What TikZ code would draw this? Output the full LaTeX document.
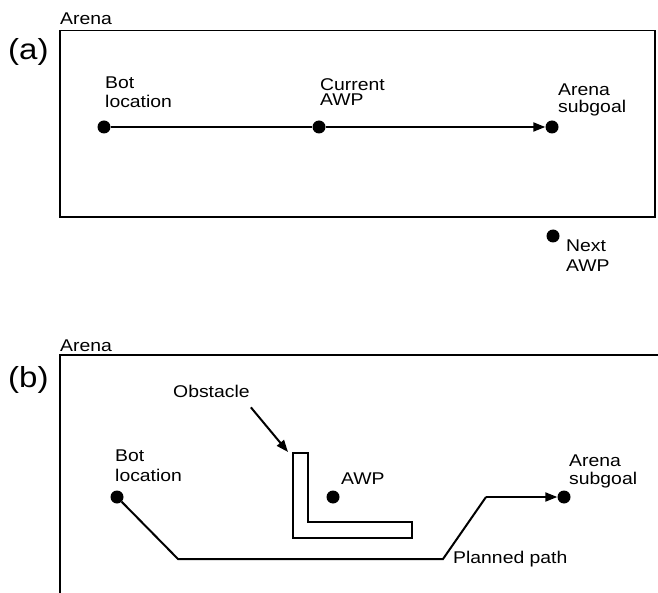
\documentclass[tikz,border=0pt]{standalone}
\usepackage{fontspec}
\setmainfont{Liberation Sans}[FakeStretch=1.14]
\usetikzlibrary{arrows.meta}
\begin{document}
\begin{tikzpicture}[x=1pt,y=-1pt,
  dot/.style={circle,fill=black,inner sep=0pt,minimum size=13pt},
  lbl/.style={inner sep=0pt,anchor=base west,align=left,font=\fontsize{17}{19}\selectfont},
  big/.style={inner sep=0pt,anchor=base west,font=\fontsize{29}{32}\selectfont},
  frame/.style={line width=1.3pt},
  conn/.style={line width=2pt},
  arr/.style={line width=2pt,-{Triangle[length=12pt,width=9pt]}}]
\useasboundingbox (0,0) rectangle (658,593);
% ---------- panel (a)
\node[lbl] (arenaA) at (60,25) {Arena};
\node[big] (labA) at (8,60) {(a)};
\draw[frame] (60,30.5) rectangle (655,217);
\node[dot] (a1) at (104,127) {};
\node[dot] (a2) at (319,127) {};
\node[dot] (a3) at (552,127) {};
\node[dot] (a4) at (553,236) {};
\node[lbl,font=\fontsize{17}{19}\selectfont] (ta1) at (105,108) {Bot\\location};
\node[lbl,font=\fontsize{17}{15.5}\selectfont] (ta2) at (320,106) {Current\\AWP};
\node[lbl,font=\fontsize{17}{17.5}\selectfont] (ta3) at (558,113) {Arena\\subgoal};
\node[lbl,font=\fontsize{17}{20}\selectfont] (ta4) at (566,272) {Next\\AWP};
\draw[conn] (a1) -- (a2);
\draw[arr] (a2) -- (a3);
% ---------- panel (b)
\node[lbl] (arenaB) at (60,351) {Arena};
\node[big] (labB) at (8,387) {(b)};
\draw[frame] (658,355) -- (60,355) -- (60,593);
\node[dot] (b1) at (117,497) {};
\node[dot] (b2) at (333,497) {};
\node[dot] (b3) at (564,497) {};
\node[lbl,font=\fontsize{17}{20}\selectfont] (tb1) at (115,481) {Bot\\location};
\node[lbl] (tb2) at (341,484) {AWP};
\node[lbl,font=\fontsize{17}{18}\selectfont] (tb3) at (569,484) {Arena\\subgoal};
\node[lbl] (tpath) at (453,563) {Planned path};
\node[lbl] (tobst) at (173,397) {Obstacle};
% obstacle
\draw[line width=1.1pt] (293,453) -- (308,453) -- (308,522) -- (412,522) -- (412,538) -- (293,538) -- cycle;
\coordinate (obsttip) at (288,452);
\draw[arr] ([shift={(1,10)}]tobst.south east) -- (obsttip);
% planned path
\coordinate (p1) at (178,559);
\coordinate (p2) at (443,559);
\coordinate (p3) at (486,497);
\draw[conn] (b1) -- (p1) -- (p2) -- (p3);
\draw[arr] (p3) -- (b3);
\end{tikzpicture}
\end{document}
